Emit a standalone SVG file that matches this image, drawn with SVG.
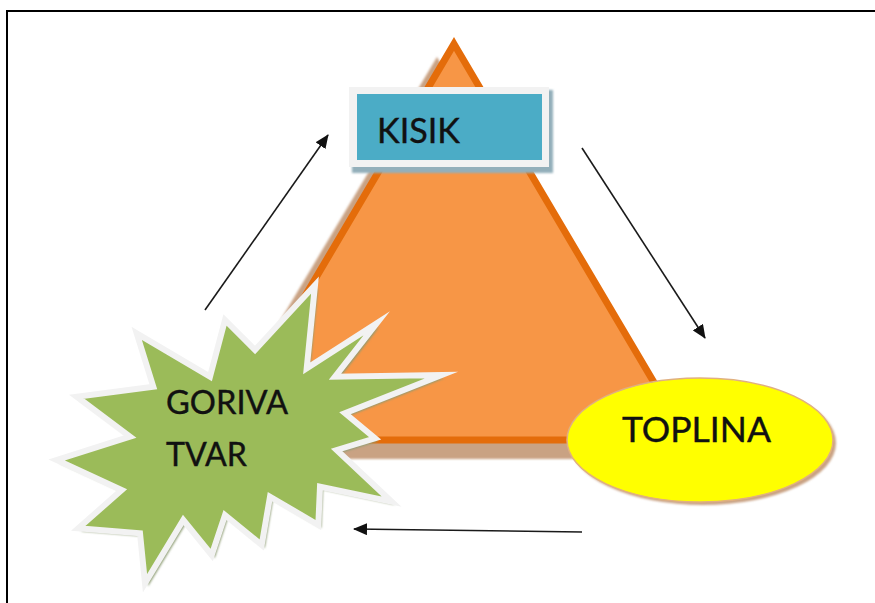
<svg xmlns="http://www.w3.org/2000/svg" width="875" height="603" viewBox="0 0 875 603">
<defs>
<style>
.lbl{font-family:Lato,"Open Sans","Liberation Sans",sans-serif;fill:#111;stroke:#111;stroke-width:0.4;}
.conn{stroke:#1a1a1a;stroke-width:1.6;fill:none;marker-end:url(#ah);}
</style>
<marker id="ah" markerWidth="14" markerHeight="12" refX="13" refY="6" orient="auto" markerUnits="userSpaceOnUse">
<path d="M0,0 L14,6 L0,12 Z" fill="#111"/>
</marker>
<filter id="soft" x="-10%" y="-10%" width="120%" height="120%"><feGaussianBlur stdDeviation="1.2"/></filter>
</defs>
<rect width="875" height="603" fill="#fff"/>
<rect x="7" y="11" width="900" height="700" fill="none" stroke="#000" stroke-width="2"/>

<g id="triangle">
<polygon points="437,57 678,459 198,459" fill="#C9A283" filter="url(#soft)"/>
<polygon points="454,44 688,440 220,440" fill="#F79646" stroke="#E46C0A" stroke-width="7" stroke-linejoin="miter"/>
</g>

<g id="kisik">
<rect x="352" y="90" width="201" height="83" fill="#93AFBA" filter="url(#soft)"/>
<rect x="349" y="87" width="200" height="80" fill="#F2F2F2"/>
<rect x="357" y="94" width="185" height="66" fill="#4BACC6"/>
<text class="lbl" x="377" y="143" font-size="35" textLength="83" lengthAdjust="spacingAndGlyphs">KISIK</text>
</g>

<g id="goriva-tvar">
<polygon transform="translate(3,3)" fill="#8C9B72" filter="url(#soft)" points="136.7,333.3 210,376.7 225,320 255,350 315,285 306.7,368.3 376.7,323.3 335,376.7 441.7,375 345,413.3 375,438.3 336.7,450 391.7,501.7 320,486.7 318.3,525 270,496.7 261.7,545 225,515 211.7,555 183.3,520 145,583.3 140,533.3 78.3,528.3 121.7,490 56.7,460 130,436.7 76.7,396.7 153.3,386.7"/>
<polygon fill="#9BBB59" stroke="#F2F2F2" stroke-width="6" stroke-linejoin="miter" stroke-miterlimit="10" points="136.7,333.3 210,376.7 225,320 255,350 315,285 306.7,368.3 376.7,323.3 335,376.7 441.7,375 345,413.3 375,438.3 336.7,450 391.7,501.7 320,486.7 318.3,525 270,496.7 261.7,545 225,515 211.7,555 183.3,520 145,583.3 140,533.3 78.3,528.3 121.7,490 56.7,460 130,436.7 76.7,396.7 153.3,386.7"/>
<text class="lbl" x="166" y="414" font-size="32" textLength="122" lengthAdjust="spacingAndGlyphs">GORIVA</text>
<text class="lbl" x="166" y="466" font-size="32" textLength="81" lengthAdjust="spacingAndGlyphs">TVAR</text>
</g>

<g id="toplina">
<ellipse cx="703" cy="443" rx="133" ry="62" fill="#C9A283" filter="url(#soft)"/>
<ellipse cx="700" cy="440" rx="133" ry="62" fill="#FFFF00" stroke="#E0B080" stroke-width="1.5"/>
<text class="lbl" x="622" y="442" font-size="35" textLength="149" lengthAdjust="spacingAndGlyphs">TOPLINA</text>
</g>

<g id="connectors">
<line class="conn" x1="205" y1="310" x2="328" y2="135"/>
<line class="conn" x1="582" y1="148" x2="705" y2="338"/>
<line class="conn" x1="582" y1="532" x2="354" y2="529"/>
</g>
</svg>
